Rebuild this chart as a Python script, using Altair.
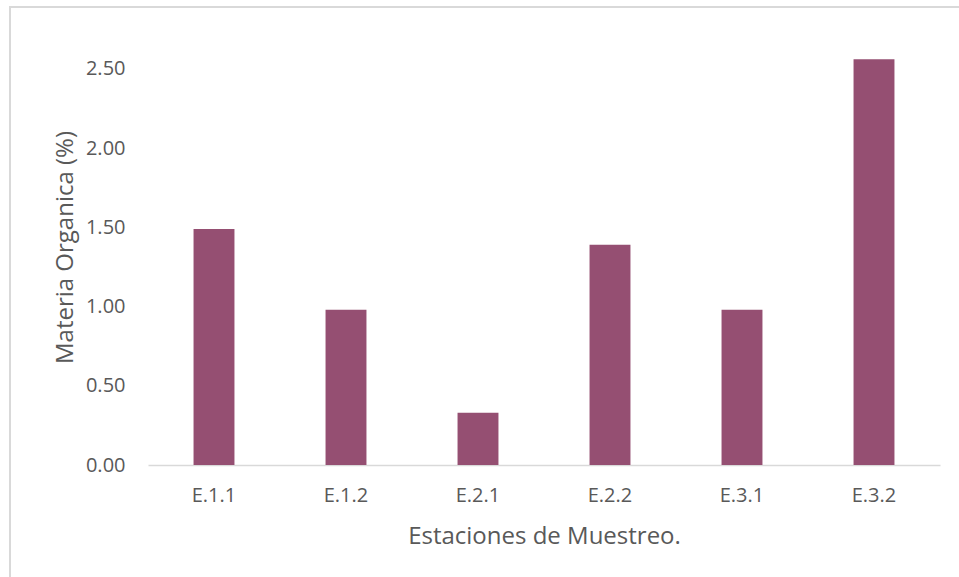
import altair as alt
import pandas as pd

estaciones = ["E.1.1", "E.1.2", "E.2.1", "E.2.2", "E.3.1", "E.3.2"]
materia = [1.49, 0.98, 0.33, 1.39, 0.98, 2.56]
y_ticks = [0.0, 0.5, 1.0, 1.5, 2.0, 2.5]

df = pd.DataFrame({"Estacion": estaciones, "Materia": materia})

FONT = "Open Sans"
GRAY = "#595959"

bars = alt.Chart(df).mark_bar(color="#954F72", clip=False).encode(
    x=alt.X("Estacion:N", sort=estaciones,
            scale=alt.Scale(paddingInner=0.69, paddingOuter=0.345),
            axis=alt.Axis(title="Estaciones de Muestreo.", labelAngle=0,
                          labelPadding=20, titlePadding=19, ticks=False,
                          domainColor="#d9d9d9", domainWidth=1.5,
                          labelFont=FONT, labelFontSize=20, labelColor=GRAY,
                          titleFont=FONT, titleFontSize=24, titleColor=GRAY,
                          titleFontWeight="normal")),
    y=alt.Y("Materia:Q", scale=alt.Scale(domain=[0, 2.6], nice=False),
            axis=alt.Axis(title="Materia Organica (%)", values=y_ticks, format=".2f",
                          grid=False, ticks=False, domain=False, labelPadding=23,
                          titlePadding=8, titleY=194,
                          labelFont=FONT, labelFontSize=20, labelColor=GRAY,
                          titleFont=FONT, titleFontSize=24, titleColor=GRAY,
                          titleFontWeight="normal")),
)

border_top = alt.Chart(df).mark_rule(color="#d9d9d9", strokeWidth=2, clip=False).encode(
    x=alt.value(-139), x2=alt.value(830), y=alt.value(-46)
)
border_left = alt.Chart(df).mark_rule(color="#d9d9d9", strokeWidth=2, clip=False).encode(
    x=alt.value(-138), y=alt.value(-46), y2=alt.value(530)
)

chart = alt.layer(border_top, border_left, bars).properties(
    width=792, height=412,
    autosize=alt.AutoSizeParams(type="none"),
    padding={"left": 148, "top": 53, "right": 19, "bottom": 112},
    background="white",
).configure_view(stroke=None)

chart.save("out.html", embed_options={"renderer": "svg", "actions": False})
